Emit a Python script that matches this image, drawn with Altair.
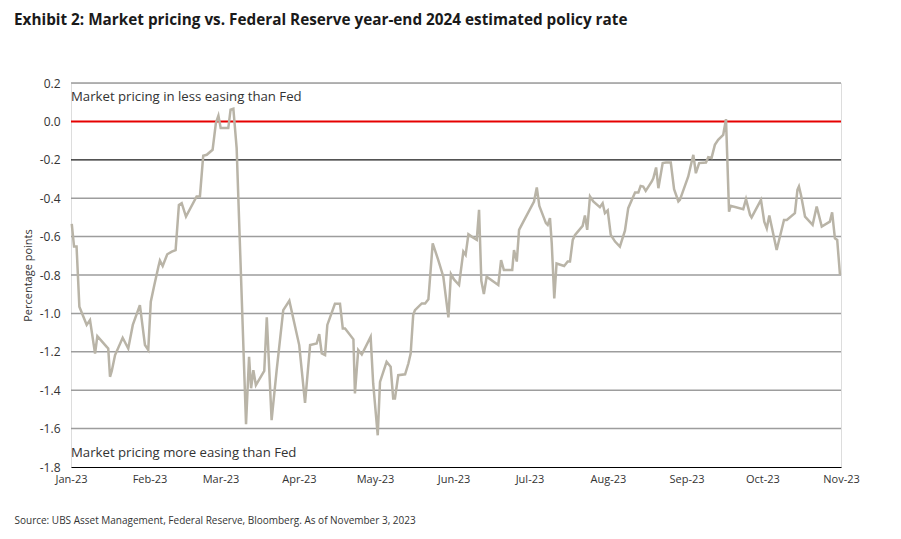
import altair as alt
import pandas as pd

# Day offsets from 1 Jan 2023 and the spread (percentage points)
days = [0.3, 1.2, 2.2, 3.3, 4.9, 6.2, 7.5, 9.5, 10.4, 14.1, 14.7, 15.4, 16.1, 17.4, 20.4, 22.6,
        24.4, 27.2, 29.2, 30.5, 31.5, 32.9, 34.5, 35.1, 36.2, 38.0, 39.8, 41.3, 42.6, 43.7, 45.4,
        49.6, 50.9, 52.2, 53.6, 55.9, 57.2, 58.2, 59.1, 62.1, 63.0, 64.1, 65.4, 69.1, 70.3, 71.1,
        72.0, 73.0, 76.3, 77.3, 79.2, 81.2, 83.8, 86.2, 90.1, 92.4, 94.4, 97.0, 98.0, 99.0, 100.3,
        101.2, 104.2, 106.2, 107.3, 108.2, 111.5, 112.1, 113.4, 114.8, 118.3, 119.3, 121.1, 122.0,
        124.6, 126.2, 127.2, 127.9, 129.2, 131.9, 133.2, 134.1, 135.1, 135.8, 138.5, 139.8, 141.1,
        142.8, 145.0, 147.0, 149.0, 150.0, 151.2, 153.2, 154.9, 155.8, 156.9, 158.2, 160.2, 161.1,
        162.0, 163.0, 164.1, 168.7, 169.8, 170.9, 174.2, 174.9, 176.0, 176.9, 178.6, 182.8, 183.9,
        184.9, 187.5, 188.2, 189.1, 189.8, 190.8, 191.7, 194.7, 196.1, 197.0, 198.1, 199.0, 202.0,
        202.9, 203.8, 204.9, 206.2, 208.8, 209.9, 210.8, 211.9, 213.1, 214.8, 216.7, 218.7, 220.0,
        222.0, 222.7, 224.0, 224.9, 225.9, 226.9, 229.3, 229.9, 231.0, 231.9, 233.6, 234.9, 236.8,
        238.1, 239.8, 240.4, 243.7, 245.7, 246.7, 248.0, 250.7, 251.6, 252.9, 254.2, 255.5, 257.5,
        258.6, 259.8, 260.4, 265.4, 266.5, 268.1, 268.7, 272.4, 273.7, 274.7, 275.7, 278.6, 281.5,
        282.6, 285.8, 286.8, 287.4, 288.2, 289.8, 292.8, 294.4, 296.4, 299.6, 300.5, 301.6, 302.5,
        303.6]
values = [-0.534, -0.652, -0.652, -0.965, -1.017, -1.06, -1.035, -1.209, -1.118, -1.174, -1.183,
          -1.33, -1.30, -1.217, -1.127, -1.183, -1.06, -0.957, -1.165, -1.19, -0.939, -0.852,
          -0.757, -0.725, -0.753, -0.692, -0.678, -0.67, -0.435, -0.426, -0.496, -0.391, -0.391,
          -0.179, -0.174, -0.148, -0.009, 0.03, -0.035, -0.035, 0.061, 0.066, -0.139, -1.577,
          -1.226, -1.39, -1.296, -1.374, -1.30, -1.02, -1.556, -1.296, -0.983, -0.934, -1.165,
          -1.466, -1.165, -1.157, -1.108, -1.209, -1.217, -1.06, -0.95, -0.95, -1.078, -1.078,
          -1.135, -1.417, -1.191, -1.214, -1.122, -1.365, -1.635, -1.357, -1.252, -1.278, -1.443,
          -1.443, -1.322, -1.317, -1.261, -1.209, -1.009, -0.983, -0.948, -0.948, -0.927, -0.635,
          -0.722, -0.809, -1.021, -0.795, -0.823, -0.852, -0.678, -0.695, -0.588, -0.6, -0.617,
          -0.461, -0.83, -0.899, -0.809, -0.852, -0.722, -0.774, -0.774, -0.67, -0.73, -0.565,
          -0.522, -0.417, -0.344, -0.44, -0.53, -0.539, -0.504, -0.635, -0.922, -0.74, -0.753,
          -0.73, -0.73, -0.617, -0.591, -0.544, -0.49, -0.565, -0.391, -0.417, -0.447, -0.426,
          -0.478, -0.464, -0.591, -0.626, -0.652, -0.569, -0.452, -0.391, -0.37, -0.37, -0.336,
          -0.339, -0.362, -0.313, -0.296, -0.24, -0.348, -0.217, -0.214, -0.214, -0.353, -0.417,
          -0.409, -0.287, -0.174, -0.27, -0.217, -0.214, -0.186, -0.19, -0.122, -0.096, -0.07,
          0.012, -0.47, -0.44, -0.457, -0.405, -0.487, -0.5, -0.409, -0.522, -0.557, -0.49, -0.67,
          -0.513, -0.513, -0.478, -0.357, -0.339, -0.383, -0.496, -0.539, -0.443, -0.548, -0.522,
          -0.474, -0.609, -0.617, -0.8]

grid_grey = [0.2, -0.4, -0.6, -0.8, -1.0, -1.2, -1.4, -1.6]
grid_dark = [-0.2]
fed_line = [0.0]
y_ticks = [0.2, 0.0, -0.2, -0.4, -0.6, -0.8, -1.0, -1.2, -1.4, -1.6, -1.8]
month_ticks = list(range(1, 12))

notes = ["Market pricing in less easing than Fed", "Market pricing more easing than Fed"]
note_y = [0.127, -1.727]

title = "Exhibit 2: Market pricing vs. Federal Reserve year-end 2024 estimated policy rate"
source = "Source: UBS Asset Management, Federal Reserve, Bloomberg. As of November 3, 2023"

FONT = "Open Sans"
start = pd.Timestamp("2023-01-01")
df = pd.DataFrame({
    "date": [start + pd.Timedelta(days=d) for d in days],
    "value": values,
})
notes_df = pd.DataFrame({"date": [start, start], "value": note_y, "text": notes})

x_scale = alt.Scale(domain=[alt.DateTime(year=2023, month=1, date=1),
                            alt.DateTime(year=2023, month=11, date=1)])
y_scale = alt.Scale(domain=[-1.8, 0.2], nice=False)

x_axis = alt.Axis(
    values=[alt.DateTime(year=2023, month=m, date=1) for m in month_ticks],
    format="%b-%y", grid=False, ticks=False, domain=True, domainColor="#000000",
    domainWidth=1.2, labelFlush=False, labelOverlap=False, labelPadding=6,
    labelFont=FONT, labelFontSize=11, labelColor="#333333",
    title=source, titleFont=FONT, titleFontSize=10, titleFontWeight="normal",
    titleColor="#333333", titleAnchor="start", titleAlign="left", titleX=-57, titleY=53,
    titleBaseline="middle",
)
y_axis = alt.Axis(
    values=y_ticks, grid=False, ticks=False, domain=False, labelOverlap=False,
    labelExpr="replace(format(datum.value, '.1f'), '\u2212', '-')",
    labelFont=FONT, labelFontSize=12, labelColor="#333333", labelPadding=11,
    title="Percentage points", titleFont=FONT, titleFontSize=11, titleFontWeight="normal",
    titleColor="#333333", titlePadding=6,
)

grey_rules = alt.Chart(pd.DataFrame({"v": grid_grey})).mark_rule(
    color="#9d9d9d", strokeWidth=1.5).encode(
    y=alt.Y("v:Q", scale=y_scale, axis=y_axis))
dark_rules = alt.Chart(pd.DataFrame({"v": grid_dark})).mark_rule(
    color="#1a1a1a", strokeWidth=1.2).encode(y=alt.Y("v:Q", scale=y_scale, axis=y_axis))
red_rule = alt.Chart(pd.DataFrame({"v": fed_line})).mark_rule(
    color="#e60000", strokeWidth=2).encode(y=alt.Y("v:Q", scale=y_scale, axis=y_axis))

line = alt.Chart(df).mark_line(color="#b9b4a7", strokeWidth=2.5).encode(
    x=alt.X("date:T", scale=x_scale, axis=x_axis),
    y=alt.Y("value:Q", scale=y_scale, axis=y_axis),
)

note_text = alt.Chart(notes_df).mark_text(
    align="left", baseline="middle", font=FONT, fontSize=13.2, color="#333333").encode(
    x=alt.X("date:T", scale=x_scale, axis=x_axis),
    y=alt.Y("value:Q", scale=y_scale, axis=y_axis),
    text="text:N",
)

chart = alt.layer(grey_rules, dark_rules, red_rule, line, note_text).properties(
    width=770, height=384,
    autosize=alt.AutoSizeParams(type="none"),
    padding={"left": 63, "top": 75, "right": 50, "bottom": 60},
    title=alt.TitleParams(title, anchor="start", frame="group", dx=-57, offset=49, font=FONT,
                          fontSize=15.3, fontWeight="bold", color="#1a1a1a"),
).configure_view(stroke=None).configure(background="white")

chart.save("out.html", embed_options={"renderer": "svg", "actions": False})
